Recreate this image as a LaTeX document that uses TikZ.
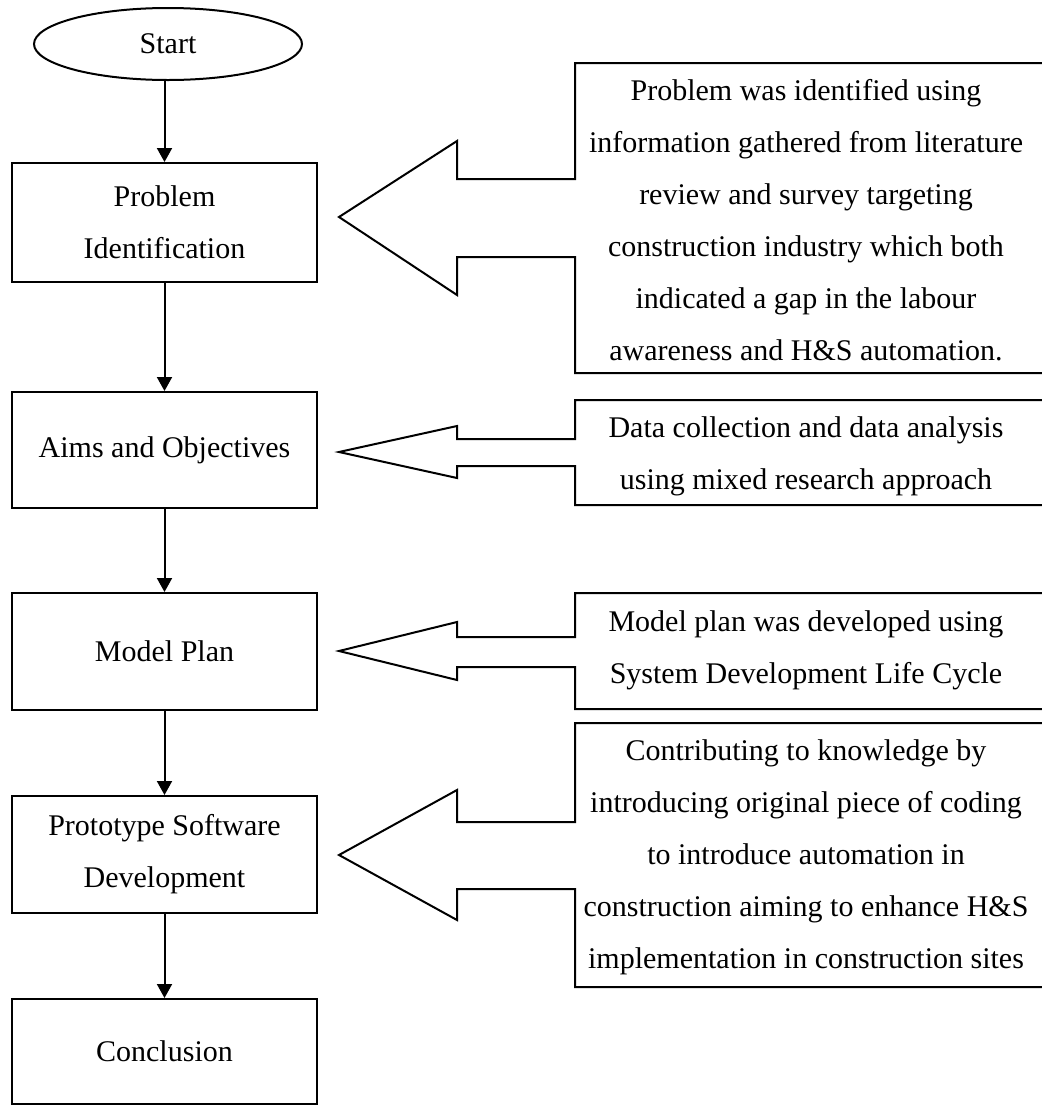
\documentclass[tikz,border=0pt]{standalone}
\usepackage{fontspec}
\setmainfont{Liberation Serif}
\usetikzlibrary{shapes.geometric,arrows.meta}
\begin{document}
\begin{tikzpicture}[x=1pt,y=-1pt,line width=2pt,
  txt/.style={font=\fontsize{30}{52}\selectfont},
  stepbox/.style={txt,draw,rectangle,minimum width=305pt,minimum height=117pt,inner sep=0pt,align=center},
  startshape/.style={txt,draw,ellipse,minimum width=268pt,minimum height=72pt,inner sep=0pt},
  note/.style={txt,align=center,inner sep=0pt},
  flow/.style={-{Triangle[length=14pt,width=15pt]}}]
\useasboundingbox (0,0) rectangle (1042,1112);
\clip (0,0) rectangle (1042,1112);

% main flow
\node[startshape] (start) at (168,44) {Start};
\node[stepbox,minimum height=119pt] (pi) at (164.5,222.5) {Problem\\Identification};
\node[stepbox,minimum height=116pt] (ao) at (164.5,450) {Aims and Objectives};
\node[stepbox] (mp) at (164.5,651.5) {Model Plan};
\node[stepbox] (psd) at (164.5,854.5) {Prototype Software\\Development};
\node[stepbox,minimum height=105pt] (conc) at (164.5,1051.5) {Conclusion};

\draw[flow] (start.south -| pi.north) -- (pi.north);
\draw[flow] (pi.south) -- (ao.north);
\draw[flow] (ao.south) -- (mp.north);
\draw[flow] (mp.south) -- (psd.north);
\draw[flow] (psd.south) -- (conc.north);

% left-pointing arrow callouts
\draw (575,63) -- (1060,63) -- (1060,373) -- (575,373) -- (575,257) -- (457,257)
  -- (457,295) -- (339,217) -- (457,141) -- (457,179) -- (575,179) -- cycle;
\draw (575,400) -- (1060,400) -- (1060,505) -- (575,505) -- (575,466) -- (457,466)
  -- (457,478) -- (339,452) -- (457,426) -- (457,439) -- (575,439) -- cycle;
\draw (575,593) -- (1060,593) -- (1060,709) -- (575,709) -- (575,667) -- (457,667)
  -- (457,680) -- (339,651) -- (457,622) -- (457,637) -- (575,637) -- cycle;
\draw (575,723) -- (1060,723) -- (1060,987) -- (575,987) -- (575,889) -- (457,889)
  -- (457,920) -- (339,855) -- (457,790) -- (457,822) -- (575,822) -- cycle;

% callout texts
\node[note] (n1) at (806,220) {Problem was identified using\\information gathered from literature\\review and survey targeting\\construction industry which both\\indicated a gap in the labour\\awareness and H\&S automation.};
\node[note] (n2) at (806,456) {Data collection and data analysis\\using mixed research approach};
\node[note] (n3) at (806,650) {Model plan was developed using\\System Development Life Cycle};
\node[note] (n4) at (806,857) {Contributing to knowledge by\\introducing original piece of coding\\to introduce automation in\\construction aiming to enhance H\&S\\implementation in construction sites};
\end{tikzpicture}
\end{document}
